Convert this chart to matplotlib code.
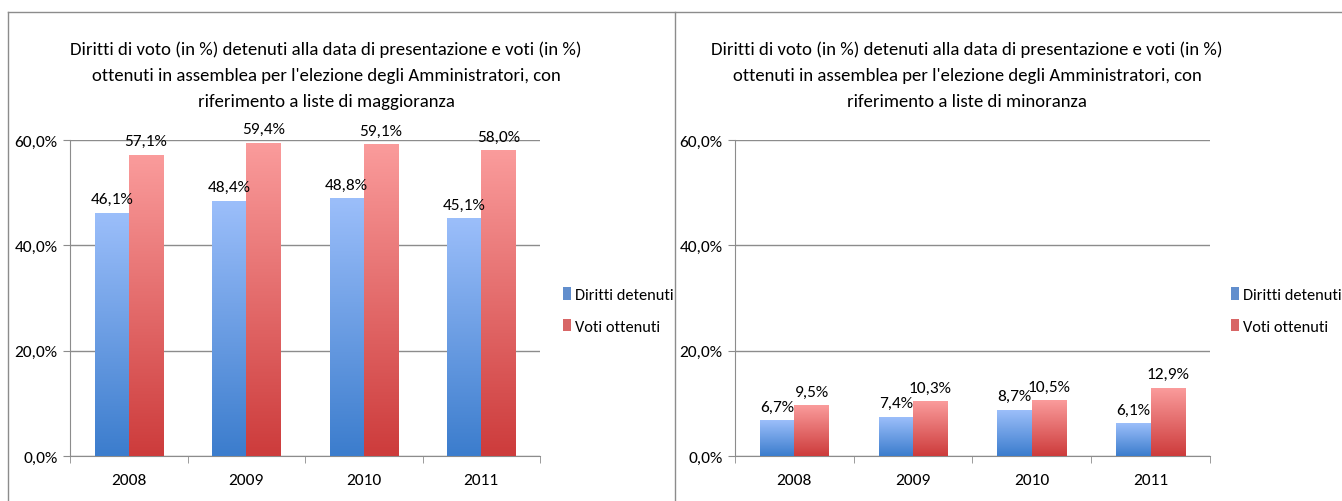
import matplotlib
matplotlib.use("Agg")
import matplotlib.pyplot as plt
from matplotlib import font_manager
from matplotlib.patches import Patch
from matplotlib.lines import Line2D
import numpy as np

# data
anni = ["2008", "2009", "2010", "2011"]
maggioranza_diritti = [46.1, 48.4, 48.8, 45.1]
maggioranza_voti = [57.1, 59.4, 59.1, 58.0]
minoranza_diritti = [6.7, 7.4, 8.7, 6.1]
minoranza_voti = [9.5, 10.3, 10.5, 12.9]
serie = ["Diritti detenuti", "Voti ottenuti"]
titolo_magg = ("Diritti di voto (in %) detenuti alla data di presentazione e voti (in %)\n"
               "ottenuti in assemblea per l'elezione degli Amministratori, con\n"
               "riferimento a liste di maggioranza")
titolo_min = ("Diritti di voto (in %) detenuti alla data di presentazione e voti (in %)\n"
              "ottenuti in assemblea per l'elezione degli Amministratori, con\n"
              "riferimento a liste di minoranza")
yticks = [0, 20, 40, 60]

# Carlito = Calibri metrics, fall back to DejaVu
installed = {f.name for f in font_manager.fontManager.ttflist}
plt.rcParams["font.family"] = [f for f in ["Carlito", "DejaVu Sans"] if f in installed]

blue_top, blue_bot = np.array([155, 190, 250]) / 255, np.array([60, 125, 205]) / 255
red_top, red_bot = np.array([250, 155, 155]) / 255, np.array([205, 60, 60]) / 255
grid_col = "#8c8c8c"


def grad_bar(ax, x, h, w, top, bot):
    t = np.linspace(0, 1, 64).reshape(-1, 1, 1)
    img = bot * (1 - t) + top * t
    ax.imshow(img, extent=[x - w / 2, x + w / 2, 0, h], origin="lower",
              aspect="auto", zorder=3, interpolation="bilinear")


def fmt(v):
    return f"{v:.1f}%".replace(".", ",")


def pannello(fig, rect, diritti, voti, titolo, title_x, leg_x):
    ax = fig.add_axes(rect)
    x = np.arange(len(anni))
    w = 0.29
    for i in x:
        grad_bar(ax, i - w / 2, diritti[i], w, blue_top, blue_bot)
        grad_bar(ax, i + w / 2, voti[i], w, red_top, red_bot)
        ax.annotate(fmt(diritti[i]), (i - w / 2, diritti[i]), xytext=(0, 5),
                    textcoords="offset points", ha="center", va="bottom",
                    fontsize=12.5, annotation_clip=False)
        ax.annotate(fmt(voti[i]), (i + w / 2, voti[i]), xytext=(0, 5),
                    textcoords="offset points", ha="center", va="bottom",
                    fontsize=12.5, annotation_clip=False)
    ax.set_xlim(-0.5, len(anni) - 0.5)
    ax.set_ylim(0, 60)
    ax.set_yticks(yticks)
    ax.set_yticklabels([fmt(v) for v in yticks], fontsize=12.5)
    ax.set_xticks(x)
    ax.set_xticklabels(anni, fontsize=12.5)
    ax.tick_params(axis="x", length=0, pad=12)
    ax.set_xticks(np.arange(len(anni) + 1) - 0.5, minor=True)
    ax.tick_params(axis="x", which="minor", length=5, color=grid_col)
    ax.tick_params(axis="y", length=5, color=grid_col, pad=4)
    ax.yaxis.grid(True, color=grid_col, linewidth=1)
    ax.set_axisbelow(True)
    for s in ["top", "right"]:
        ax.spines[s].set_visible(False)
    for s in ["left", "bottom"]:
        ax.spines[s].set_color(grid_col)
    fig.text(title_x, 0.849, titolo, ha="center", va="center", fontsize=13.5,
             linespacing=1.75)
    handles = [Patch(facecolor=(blue_top + blue_bot) / 2 * 0.9, edgecolor="none"),
               Patch(facecolor=(red_top + red_bot) / 2 * 0.95, edgecolor="none")]
    fig.legend(handles, serie, loc="center left", bbox_to_anchor=(leg_x, 0.3795),
               frameon=False, fontsize=11.8, handlelength=0.5, handleheight=0.8,
               handletextpad=0.25, labelspacing=1.0, borderpad=0, borderaxespad=0)
    return ax


fig = plt.figure(figsize=(13.42, 5.02), dpi=100)
pannello(fig, [70 / 1342, 45 / 502, 470 / 1342, 316 / 502],
         maggioranza_diritti, maggioranza_voti, titolo_magg, 326 / 1342, 563 / 1342)
pannello(fig, [735 / 1342, 45 / 502, 475 / 1342, 316 / 502],
         minoranza_diritti, minoranza_voti, titolo_min, 967 / 1342, 1231 / 1342)

# panel borders
top = 1 - 13 / 502
fig.add_artist(Line2D([8 / 1342, 1], [top, top], color=grid_col, lw=1))
fig.add_artist(Line2D([8 / 1342, 8 / 1342], [0, top], color=grid_col, lw=1))
fig.add_artist(Line2D([675 / 1342, 675 / 1342], [0, top], color=grid_col, lw=1))

fig.savefig("out.png", dpi=100)
